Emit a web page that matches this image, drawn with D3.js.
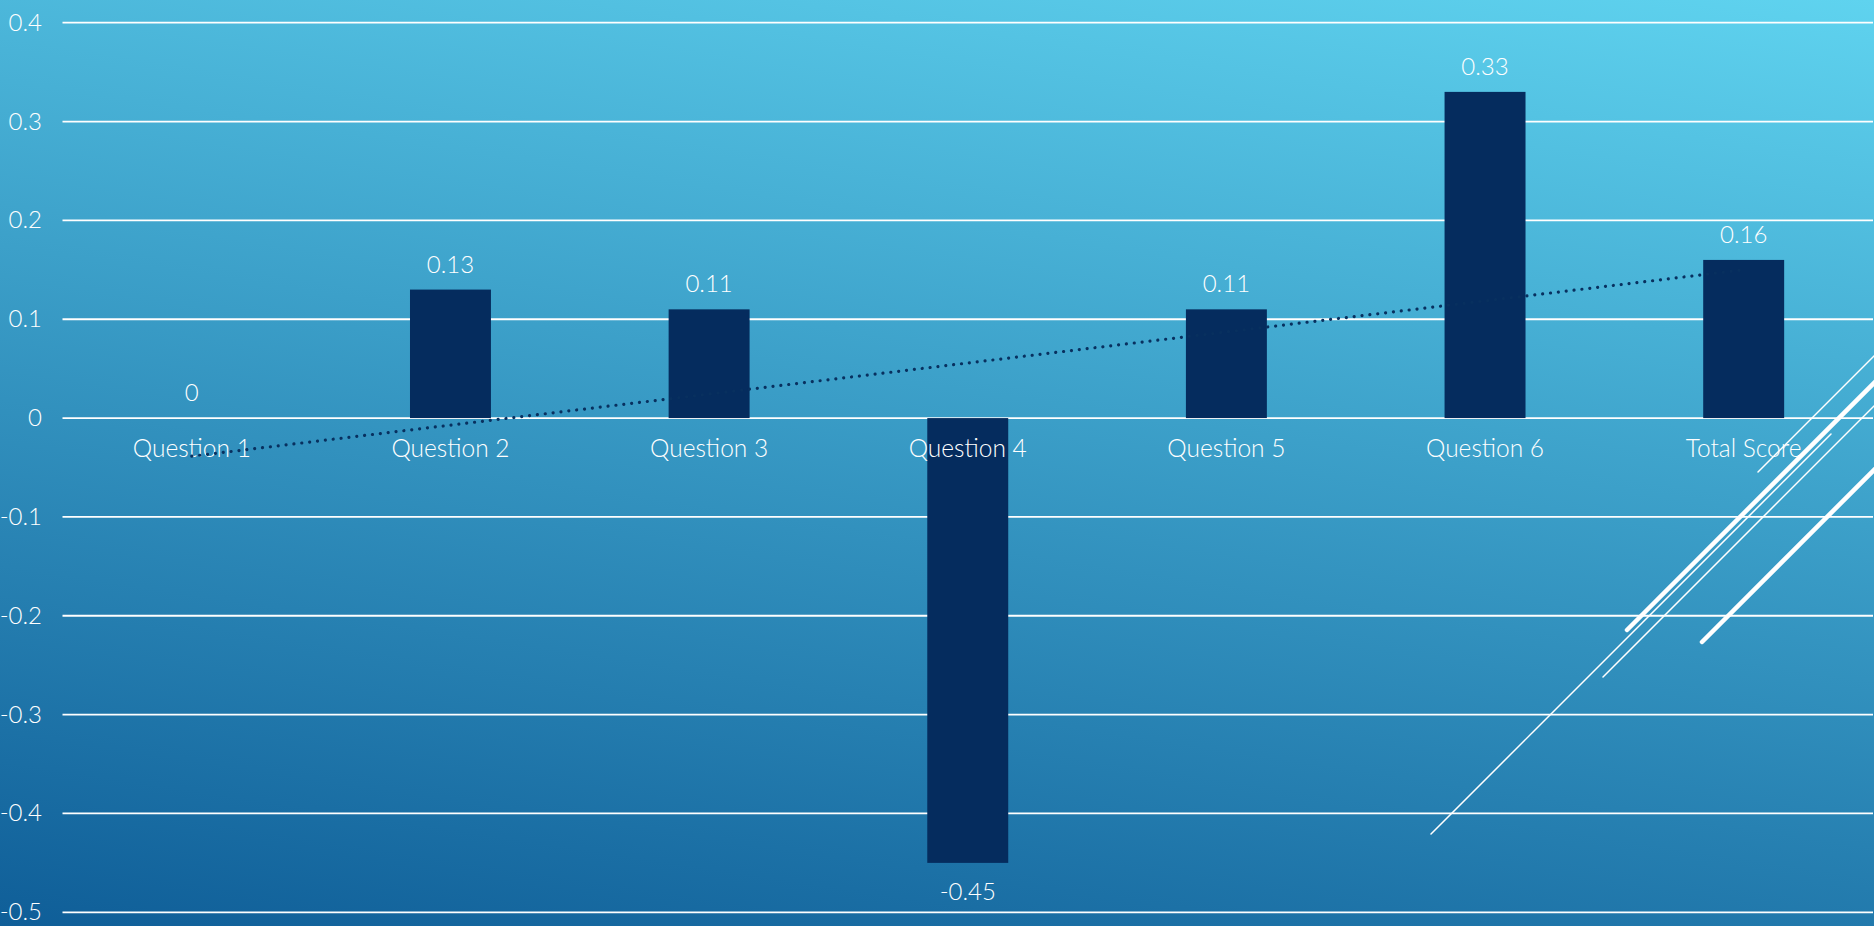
<!DOCTYPE html>
<html>
<head>
<meta charset="utf-8">
<script src="https://cdn.jsdelivr.net/npm/d3@7"></script>
<style>
  html, body { margin: 0; padding: 0; overflow: hidden; }
  svg { display: block; }
  text { font-family: Lato, "Open Sans", sans-serif; font-weight: 300; fill: #fff; }
</style>
</head>
<body>
<svg id="chart"></svg>
<script>
// chart values
const categories = ["Question 1", "Question 2", "Question 3", "Question 4", "Question 5", "Question 6", "Total Score"];
const values = [0, 0.13, 0.11, -0.45, 0.11, 0.33, 0.16];
const valueLabels = ["0", "0.13", "0.11", "-0.45", "0.11", "0.33", "0.16"];
const yTicks = [0.4, 0.3, 0.2, 0.1, 0, -0.1, -0.2, -0.3, -0.4, -0.5];

const width = 1874, height = 926;

const svg = d3.select("#chart")
    .attr("width", width)
    .attr("height", height);

// background gradient (light top-right to dark bottom-left)
const defs = svg.append("defs");
const grad = defs.append("linearGradient")
    .attr("id", "bg")
    .attr("gradientUnits", "userSpaceOnUse")
    .attr("x1", 1026).attr("y1", -128)
    .attr("x2", 848).attr("y2", 1054);
grad.append("stop").attr("offset", "0%").attr("stop-color", "rgb(95,211,239)");
grad.append("stop").attr("offset", "100%").attr("stop-color", "rgb(15,94,152)");

svg.append("rect")
    .attr("width", width)
    .attr("height", height)
    .attr("fill", "url(#bg)");

let x = d3.scaleBand()
    .domain(categories)
    .range([62.5, 1873])
    .paddingInner(0.687)
    .paddingOuter(0.3435);

let y = d3.scaleLinear()
    .domain([-0.5, 0.4])
    .range([912.3, 22.7]);

// gridlines
svg.append("g")
    .selectAll("line")
    .data(yTicks)
    .enter().append("line")
    .attr("x1", 62.5)
    .attr("x2", 1873)
    .attr("y1", d => y(d))
    .attr("y2", d => y(d))
    .attr("stroke", "#fff")
    .attr("stroke-width", 1.8);

// y tick labels
svg.append("g")
    .selectAll("text")
    .data(yTicks)
    .enter().append("text")
    .attr("x", 42)
    .attr("y", d => y(d) + 8)
    .attr("text-anchor", "end")
    .style("font-size", "24px")
    .text(d => String(+d.toFixed(1)));

// bars
svg.append("g")
    .selectAll("rect")
    .data(values)
    .enter().append("rect")
    .attr("x", (d, i) => x(categories[i]))
    .attr("width", x.bandwidth())
    .attr("y", d => y(Math.max(0, d)))
    .attr("height", d => Math.abs(y(d) - y(0)))
    .attr("fill", "#052c5e");

// category labels
svg.append("g")
    .selectAll("text")
    .data(categories)
    .enter().append("text")
    .attr("x", d => x(d) + x.bandwidth() / 2)
    .attr("y", y(0) + 39)
    .attr("text-anchor", "middle")
    .style("font-size", "24.5px")
    .text(d => d);

// value labels
svg.append("g")
    .selectAll("text")
    .data(values)
    .enter().append("text")
    .attr("x", (d, i) => x(categories[i]) + x.bandwidth() / 2)
    .attr("y", d => d < 0 ? y(d) + 37 : y(d) - 17)
    .attr("text-anchor", "middle")
    .style("font-size", "24px")
    .text((d, i) => valueLabels[i]);

// linear trendline (least squares over category index)
let idx = values.map((d, i) => i + 1);
let mx = d3.mean(idx), my = d3.mean(values);
let slope = d3.sum(idx, (k, i) => (k - mx) * (values[i] - my)) / d3.sum(idx, k => (k - mx) * (k - mx));
let icpt = my - slope * mx;
let trend = [idx[0], idx[idx.length - 1]].map(k => [categories[k - 1], icpt + slope * k]);

svg.append("path")
    .datum(trend)
    .attr("fill", "none")
    .attr("stroke", "#08305f")
    .attr("stroke-width", 3.2)
    .attr("stroke-linecap", "round")
    .attr("stroke-dasharray", "0.01,7.9")
    .attr("d", d3.line()
        .x(d => x(d[0]) + x.bandwidth() / 2)
        .y(d => y(d[1])));

// slide decoration lines, bottom right
const deco = [
  {x1: 1758, y1: 472, w: 1.5},
  {x1: 1627, y1: 630, w: 4.5},
  {x1: 1431, y1: 834, w: 1.5},
  {x1: 1603, y1: 677, w: 1.5},
  {x1: 1702, y1: 642, w: 4.5}
];
svg.append("g")
    .selectAll("line")
    .data(deco)
    .enter().append("line")
    .attr("x1", d => d.x1)
    .attr("y1", d => d.y1)
    .attr("x2", d => d.x1 + 400)
    .attr("y2", d => d.y1 - 400)
    .attr("stroke", "#fff")
    .attr("stroke-width", d => d.w)
    .attr("stroke-linecap", "round");
</script>
</body>
</html>
